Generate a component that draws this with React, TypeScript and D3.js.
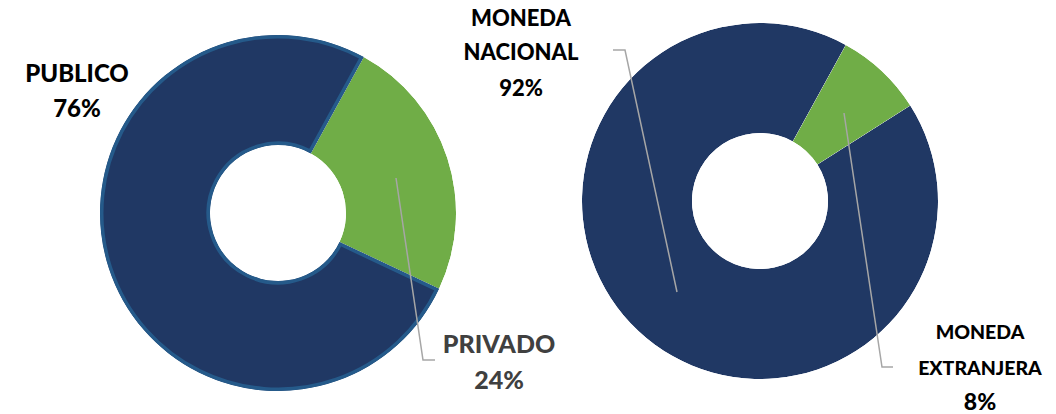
import React from "react";
import * as d3 from "d3";

const leftCategories = ["PRIVADO", "PUBLICO"];
const leftValues = [24, 76];
const rightCategories = ["MONEDA EXTRANJERA", "MONEDA NACIONAL"];
const rightValues = [8, 92];
const sliceColors = ["#70AD47", "#203864"];

const W = 1056;
const H = 414;
const FONT = "Lato, 'Open Sans', sans-serif";
const startRad = (28.8 * Math.PI) / 180;

type Donut = {
  cx: number;
  cy: number;
  cats: string[];
  vals: number[];
  outlined: boolean;
  id: string;
};

const donuts: Donut[] = [
  { cx: 278, cy: 213, cats: leftCategories, vals: leftValues, outlined: true, id: "l" },
  { cx: 760, cy: 201, cats: rightCategories, vals: rightValues, outlined: false, id: "r" },
];

const outerR = 178;
const innerR = 68;

function DonutChart({ d }: { d: Donut }) {
  const pie = d3
    .pie<number>()
    .sort(null)
    .value((v) => v)
    .startAngle(startRad)
    .endAngle(startRad + 2 * Math.PI);
  const arc = d3.arc<d3.PieArcDatum<number>>().innerRadius(innerR).outerRadius(outerR);
  const arcs = pie(d.vals);
  return (
    <g transform={`translate(${d.cx},${d.cy})`}>
      <defs>
        {arcs.map((a, i) => (
          <clipPath id={`clip-${d.id}-${i}`} key={i}>
            <path d={arc(a) || ""} />
          </clipPath>
        ))}
      </defs>
      {arcs.map((a, i) => (
        <path
          key={i}
          d={arc(a) || ""}
          fill={sliceColors[i]}
          stroke={d.outlined && i === 1 ? "#255A8A" : "none"}
          strokeWidth={d.outlined && i === 1 ? 7 : 0}
          clipPath={`url(#clip-${d.id}-${i})`}
        />
      ))}
    </g>
  );
}

const leaderColor = "#A6A6A6";

export default function App() {
  return (
    <svg
      width={W}
      height={H}
      style={{ position: "absolute", left: 0, top: 0, background: "#fff" }}
      fontFamily={FONT}
      fontWeight={900}
    >
      {donuts.map((d) => (
        <DonutChart d={d} key={d.id} />
      ))}

      {/* leader lines */}
      <polyline points="396,178 423,360 435,360" fill="none" stroke={leaderColor} strokeWidth={1.5} />
      <polyline points="613,50 625,50 677,292" fill="none" stroke={leaderColor} strokeWidth={1.5} />
      <polyline points="844,113 882,367 893,367" fill="none" stroke={leaderColor} strokeWidth={1.5} />

      {/* left labels */}
      <g textAnchor="middle" fill="#000" fontSize={24}>
        <text x={77} y={82}>{leftCategories[1]}</text>
        <text x={77} y={117}>{leftValues[1]}%</text>
      </g>
      <g textAnchor="middle" fill="#404040" fontSize={25}>
        <text x={499} y={353}>{leftCategories[0]}</text>
        <text x={499} y={389}>{leftValues[0]}%</text>
      </g>

      {/* right labels */}
      <g textAnchor="middle" fill="#000" fontSize={22}>
        <text x={521} y={26}>MONEDA</text>
        <text x={521} y={60}>NACIONAL</text>
        <text x={521} y={96}>{rightValues[1]}%</text>
      </g>
      <g textAnchor="middle" fill="#000">
        <text x={980} y={339} fontSize={19.5}>MONEDA</text>
        <text x={980} y={375} fontSize={19.5}>EXTRANJERA</text>
        <text x={980} y={410} fontSize={23}>{rightValues[0]}%</text>
      </g>
    </svg>
  );
}
